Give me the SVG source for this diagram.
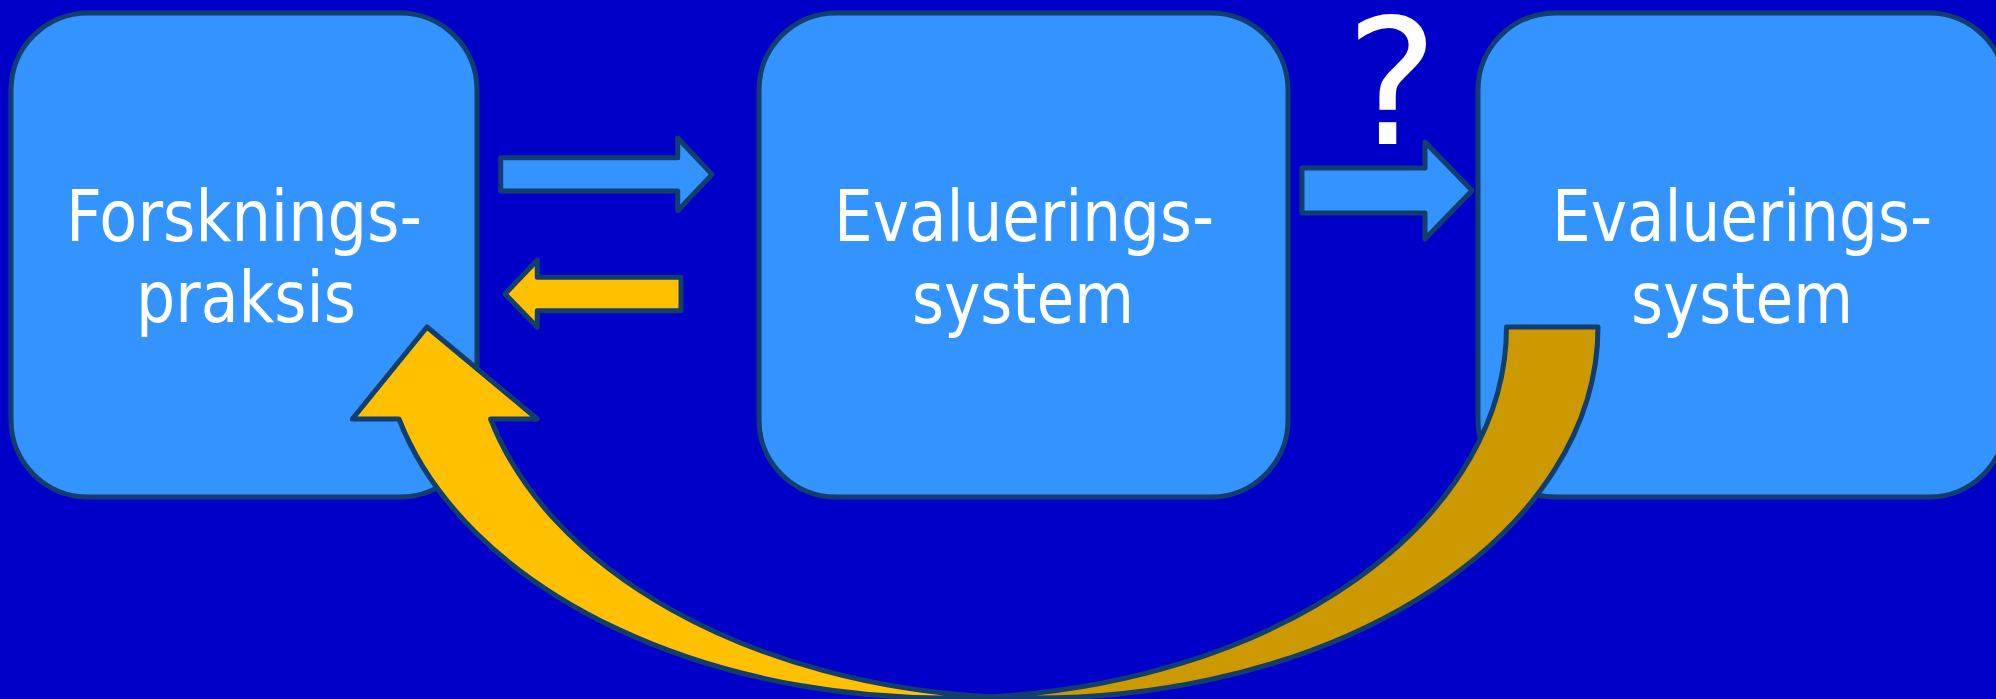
<svg xmlns="http://www.w3.org/2000/svg" width="1996" height="699" viewBox="0 0 1996 699">
<style>
.box{fill:#3393ff;stroke:#123e6e;stroke-width:5}
.lbl{font-family:"DejaVu Sans Condensed","DejaVu Sans",sans-serif;font-size:72px;fill:#ffffff;text-anchor:middle}
.q{font-family:"DejaVu Sans",sans-serif;font-size:174px;fill:#ffffff;text-anchor:middle}
.ab{fill:#3393ff;stroke:#123e6e;stroke-width:5;stroke-linejoin:round}
.ay{fill:#ffc000;stroke:#123e6e;stroke-width:5;stroke-linejoin:round}
.ad{fill:#cc9900;stroke:#123e6e;stroke-width:5;stroke-linejoin:round}
</style>
<rect x="0" y="0" width="1996" height="699" fill="#0000c8"/>
<g id="node-forskningspraksis">
<rect class="box" x="11" y="13" width="466" height="484" rx="77" ry="77"/>
<text class="lbl" x="244" y="241" textLength="356" lengthAdjust="spacingAndGlyphs">Forsknings-</text>
<text class="lbl" x="246" y="322" textLength="220" lengthAdjust="spacingAndGlyphs">praksis</text>
</g>
<g id="node-evalueringssystem-1">
<rect class="box" x="759" y="13" width="529" height="484" rx="77" ry="77"/>
<text class="lbl" x="1024" y="241" textLength="380" lengthAdjust="spacingAndGlyphs">Evaluerings-</text>
<text class="lbl" x="1023" y="323" textLength="222" lengthAdjust="spacingAndGlyphs">system</text>
</g>
<g id="node-evalueringssystem-2">
<rect class="box" x="1478" y="13" width="528" height="484" rx="77" ry="77"/>
<text class="lbl" x="1742" y="241" textLength="380" lengthAdjust="spacingAndGlyphs">Evaluerings-</text>
<text class="lbl" x="1742" y="323" textLength="222" lengthAdjust="spacingAndGlyphs">system</text>
</g>
<g id="label-question">
<text class="q" x="1392" y="144">?</text>
</g>
<g id="connectors">
<polygon class="ab" points="500.7,157.7 677.7,157.7 677.7,138 712,174.4 677.7,210.7 677.7,191 500.7,191"/>
<polygon class="ay" points="681,277.3 537.3,277.3 537.3,260 505,294 537.3,327.3 537.3,310.7 681,310.7"/>
<polygon class="ab" points="1302,168 1425,168 1425,142 1472,190.5 1425,239 1425,213 1302,213"/>
<path class="ad" d="M1506.5 327 L1598 327 A563 371 0 0 1 989.25 696.8 A563 371 0 0 0 1506.5 327 Z"/>
<path class="ay" d="M989.25 696.8 A563 371 0 0 1 399 419 L352.3 419 L427 327 L537.3 419 L490.6 419 A563 371 0 0 0 989.25 696.8 Z"/>
</g>
</svg>
